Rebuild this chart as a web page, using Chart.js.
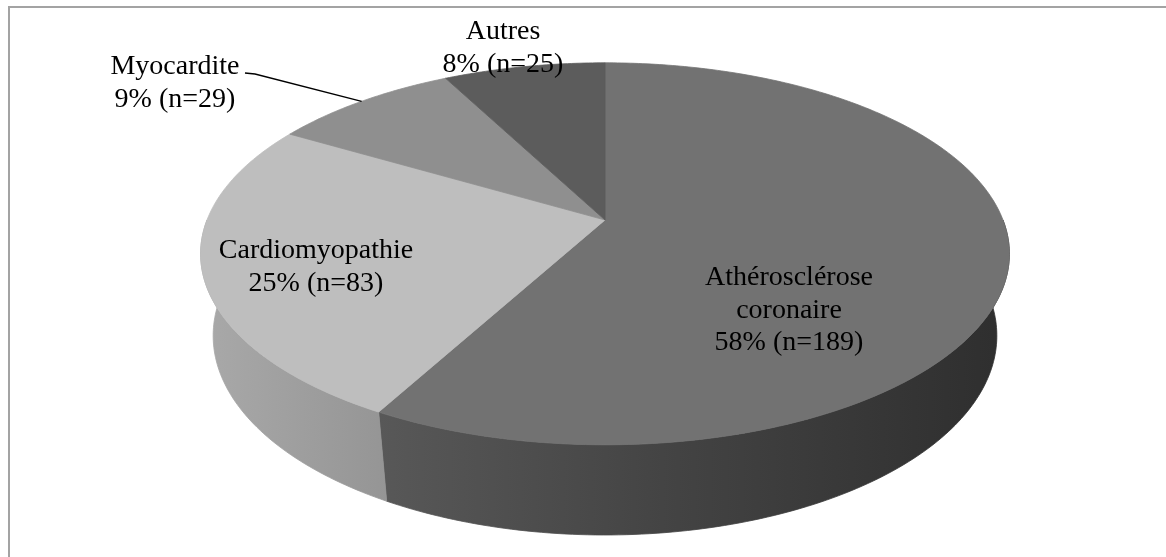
<!DOCTYPE html>
<html>
<head>
<meta charset="utf-8">
<script src="https://cdn.jsdelivr.net/npm/chart.js@4.4.1/dist/chart.umd.min.js"></script>
<style>
  html, body { margin: 0; padding: 0; background: #fff; }
  canvas { display: block; }
</style>
</head>
<body>
<canvas id="graficoPizza" width="1166" height="557"></canvas>
<script>
// Données
const categories = ["Athérosclérose coronaire", "Cardiomyopathie", "Myocardite", "Autres"];
const effectifs = [189, 83, 29, 25];
const pourcentages = [58, 25, 9, 8];
const lignesNom = [["Athérosclérose", "coronaire"], ["Cardiomyopathie"], ["Myocardite"], ["Autres"]];

// Styles
const couleursDessus = ["#727272", "#bebebe", "#8f8f8f", "#5c5c5c"];
const couleursCote = [["#585858", "#444444", "#2e2e2e"], ["#a9a9a9", "#a0a0a0", "#959595"], ["#7a7a7a", "#747474", "#6e6e6e"], ["#4a4a4a", "#454545", "#404040"]];

// Perspective du camembert 3D (centre, rayons, profondeur)
const persp = { cx: 605, cy: 220, a: 398, b: 185, k: 0.177, m: 0.031, d: 84 };
// Position des étiquettes (première ligne, ligne de base)
const posEtiquettes = [[789, 285], [316, 258], [175, 74], [503, 39]];
const interligne = 32.5;

function projeter(u, ang, z) {
  const x = u * Math.cos(ang), y = u * Math.sin(ang);
  const w = 1 - persp.k * y + persp.m * z;
  return [persp.cx + persp.a * x / w, persp.cy + (persp.b * y + persp.d * z) / w];
}

function intervallesVisibles(s, e) {
  const res = [];
  [0, 2 * Math.PI, -2 * Math.PI].forEach(off => {
    const a0 = Math.max(s, off), a1 = Math.min(e, off + Math.PI);
    if (a1 > a0) res.push([a0, a1]);
  });
  return res;
}

const pizza3d = {
  id: "pizza3d",
  beforeDraw(chart) {
    const ctx = chart.ctx;
    ctx.save();
    ctx.strokeStyle = "#a3a3a3";
    ctx.lineWidth = 2;
    ctx.beginPath();
    ctx.moveTo(9, chart.height);
    ctx.lineTo(9, 7);
    ctx.lineTo(chart.width, 7);
    ctx.stroke();
    ctx.restore();
  },
  beforeDatasetDraw(chart, args) {
    const ctx = chart.ctx;
    const arcs = args.meta.data;
    ctx.save();

    // côtés (parties avant)
    arcs.forEach((arc, i) => {
      intervallesVisibles(arc.startAngle, arc.endAngle).forEach(([a0, a1]) => {
        const n = Math.max(8, Math.ceil((a1 - a0) * 60));
        const haut = [], bas = [];
        for (let j = 0; j <= n; j++) {
          const t = a0 + (a1 - a0) * j / n;
          haut.push(projeter(1, t, 0));
          bas.push(projeter(1, t, 1));
        }
        const xs = haut.concat(bas).map(p => p[0]);
        const xmin = Math.min(...xs), xmax = Math.max(...xs);
        const grad = ctx.createLinearGradient(xmin, 0, xmax, 0);
        const cc = couleursCote[i];
        grad.addColorStop(0, cc[0]);
        grad.addColorStop(0.45, cc[1]);
        grad.addColorStop(1, cc[2]);
        ctx.beginPath();
        haut.forEach((p, j) => j ? ctx.lineTo(p[0], p[1]) : ctx.moveTo(p[0], p[1]));
        for (let j = bas.length - 1; j >= 0; j--) ctx.lineTo(bas[j][0], bas[j][1]);
        ctx.closePath();
        ctx.fillStyle = grad;
        ctx.fill();
        ctx.strokeStyle = grad;
        ctx.lineWidth = 0.8;
        ctx.stroke();
      });
    });

    // dessus
    arcs.forEach((arc, i) => {
      const s = arc.startAngle, e = arc.endAngle;
      const n = Math.max(8, Math.ceil((e - s) * 80));
      const centre = projeter(0, 0, 0);
      ctx.beginPath();
      ctx.moveTo(centre[0], centre[1]);
      for (let j = 0; j <= n; j++) {
        const p = projeter(1, s + (e - s) * j / n, 0);
        ctx.lineTo(p[0], p[1]);
      }
      ctx.closePath();
      ctx.fillStyle = arc.options.backgroundColor;
      ctx.fill();
      ctx.strokeStyle = arc.options.backgroundColor;
      ctx.lineWidth = 0.8;
      ctx.stroke();
    });

    ctx.restore();
    return false;
  },
  afterDatasetsDraw(chart) {
    const ctx = chart.ctx;
    const arcs = chart.getDatasetMeta(0).data;
    ctx.save();
    ctx.font = "28px 'Liberation Serif', 'DejaVu Serif', serif";
    ctx.fillStyle = "#000";
    ctx.textAlign = "center";
    ctx.textBaseline = "alphabetic";
    categories.forEach((c, i) => {
      const lignes = lignesNom[i].concat([pourcentages[i] + "% (n=" + effectifs[i] + ")"]);
      const [x, y] = posEtiquettes[i];
      lignes.forEach((l, j) => ctx.fillText(l, x, y + j * interligne));
    });

    // ligne de rappel pour Myocardite
    const arc = arcs[2];
    const milieu = (arc.startAngle + arc.endAngle) / 2;
    const bout = projeter(1, milieu, 0);
    ctx.strokeStyle = "#000";
    ctx.lineWidth = 1.3;
    ctx.beginPath();
    ctx.moveTo(245, 73);
    ctx.lineTo(255, 74);
    ctx.lineTo(bout[0], bout[1]);
    ctx.stroke();
    ctx.restore();
  }
};

new Chart(document.getElementById("graficoPizza"), {
  type: "pie",
  data: {
    labels: categories,
    datasets: [{
      data: effectifs,
      backgroundColor: couleursDessus,
      borderWidth: 0
    }]
  },
  options: {
    responsive: false,
    animation: false,
    plugins: { legend: { display: false }, tooltip: { enabled: false } }
  },
  plugins: [pizza3d]
});
</script>
</body>
</html>
